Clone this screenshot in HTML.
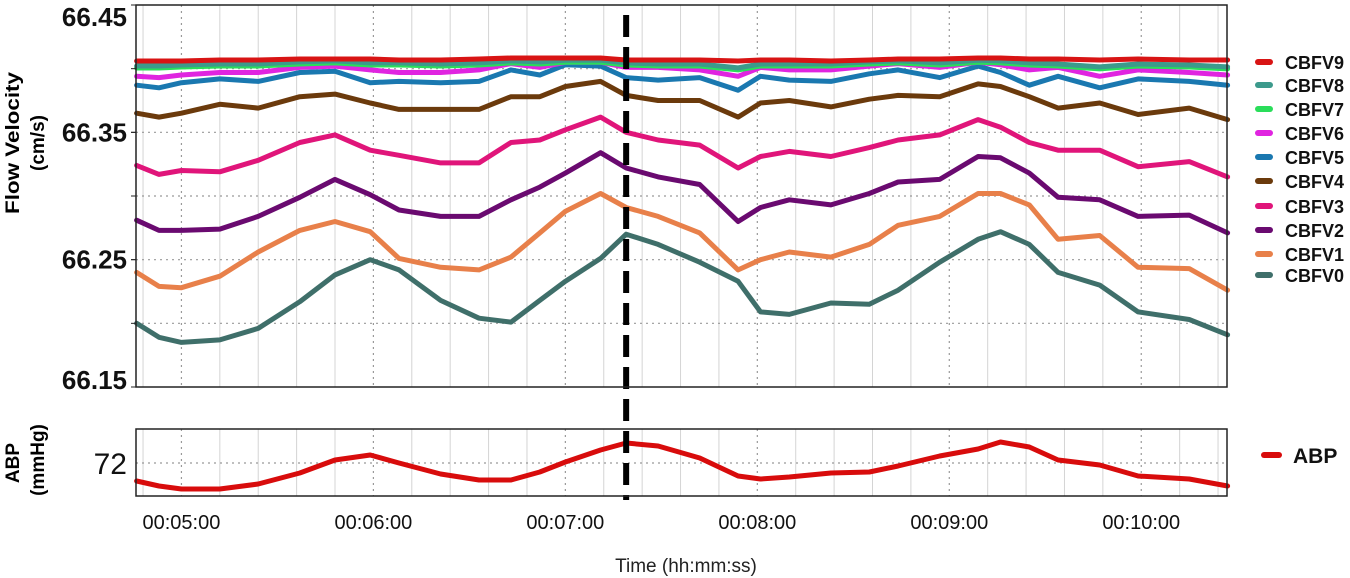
<!DOCTYPE html>
<html><head><meta charset="utf-8"><style>
html,body{margin:0;padding:0;background:#fff;}
svg{display:block;font-family:"Liberation Sans",sans-serif;}
</style></head><body>
<svg id="chart" width="1350" height="578" viewBox="0 0 1350 578" xmlns="http://www.w3.org/2000/svg">
<g id="grid"></g>
<g id="series"></g>
<rect x="136" y="5" width="1091" height="382" fill="none" stroke="#222" stroke-width="1.5"/>
<rect x="136" y="429" width="1091" height="67" fill="none" stroke="#222" stroke-width="1.5"/>
<g id="axes"></g>
<g id="legend"></g>
<text transform="translate(19,143) rotate(-90)" text-anchor="middle" font-size="19" font-weight="bold" textLength="142" lengthAdjust="spacingAndGlyphs">Flow Velocity</text>
<text transform="translate(44,143) rotate(-90)" text-anchor="middle" font-size="19" font-weight="bold">(cm/s)</text>
<text transform="translate(19,463) rotate(-90)" text-anchor="middle" font-size="19" font-weight="bold">ABP</text>
<text transform="translate(44,460) rotate(-90)" text-anchor="middle" font-size="19" font-weight="bold">(mmHg)</text>
<text x="686" y="572" text-anchor="middle" font-size="19" fill="#222">Time (hh:mm:ss)</text>
</svg>
<script>
const times=[286,293,300,312,324,337,348,359,368,381,393,403,412,420,431,439,449,462,474,481,490,503,515,524,537,549,556,565,574,587,599,615,627];
const cbfv0=[66.200,66.189,66.185,66.187,66.196,66.217,66.238,66.250,66.242,66.218,66.204,66.201,66.218,66.233,66.251,66.270,66.262,66.248,66.233,66.209,66.207,66.216,66.215,66.226,66.248,66.266,66.272,66.262,66.240,66.230,66.209,66.203,66.191];
const cbfv1=[66.240,66.229,66.228,66.237,66.256,66.273,66.280,66.272,66.251,66.244,66.242,66.252,66.271,66.288,66.302,66.291,66.284,66.271,66.242,66.250,66.256,66.252,66.262,66.277,66.284,66.302,66.302,66.293,66.266,66.269,66.244,66.243,66.226];
const cbfv2=[66.281,66.273,66.273,66.274,66.284,66.299,66.313,66.301,66.289,66.284,66.284,66.297,66.307,66.318,66.334,66.322,66.315,66.309,66.280,66.291,66.297,66.293,66.302,66.311,66.313,66.331,66.330,66.318,66.299,66.297,66.284,66.285,66.271];
const cbfv3=[66.324,66.317,66.320,66.319,66.328,66.342,66.348,66.336,66.332,66.326,66.326,66.342,66.344,66.352,66.362,66.350,66.344,66.340,66.322,66.331,66.335,66.331,66.338,66.344,66.348,66.360,66.354,66.342,66.336,66.336,66.323,66.327,66.315];
const cbfv4=[66.365,66.362,66.365,66.372,66.369,66.378,66.380,66.373,66.368,66.368,66.368,66.378,66.378,66.386,66.390,66.379,66.375,66.375,66.362,66.373,66.375,66.370,66.376,66.379,66.378,66.388,66.386,66.378,66.369,66.373,66.364,66.369,66.360];
const cbfv5=[66.387,66.385,66.389,66.392,66.390,66.397,66.398,66.389,66.390,66.389,66.390,66.399,66.395,66.403,66.402,66.393,66.391,66.393,66.383,66.394,66.391,66.390,66.396,66.399,66.393,66.402,66.397,66.387,66.394,66.385,66.392,66.390,66.387];
const cbfv6=[66.394,66.393,66.395,66.397,66.397,66.401,66.402,66.399,66.397,66.397,66.399,66.404,66.401,66.405,66.405,66.401,66.401,66.399,66.394,66.401,66.399,66.399,66.402,66.404,66.401,66.405,66.403,66.399,66.401,66.394,66.399,66.397,66.395];
const cbfv7=[66.4005,66.4005,66.4013,66.4021,66.4021,66.4037,66.4045,66.4029,66.4029,66.4021,66.4029,66.4045,66.4037,66.405,66.405,66.4029,66.4021,66.4021,66.399,66.4021,66.4021,66.4021,66.4037,66.4045,66.4029,66.405,66.4045,66.4029,66.4021,66.3998,66.4021,66.4013,66.3998];
const cbfv8=[66.4021,66.4021,66.4029,66.4037,66.4037,66.4053,66.4061,66.4045,66.4045,66.4037,66.4045,66.4061,66.4053,66.4066,66.4066,66.4045,66.4037,66.4037,66.4006,66.4037,66.4037,66.4037,66.4053,66.4061,66.4045,66.4066,66.4061,66.4045,66.4037,66.4014,66.4037,66.4029,66.4014];
const cbfv9=[66.406,66.406,66.406,66.4068,66.4068,66.4076,66.4076,66.4076,66.4068,66.4068,66.4076,66.4084,66.4084,66.4084,66.4084,66.4068,66.4068,66.4068,66.406,66.4068,66.4068,66.406,66.4068,66.4076,66.4076,66.4084,66.4084,66.4076,66.4076,66.4068,66.4076,66.4068,66.4068];
const abp=[71.64,71.54,71.48,71.48,71.58,71.80,72.06,72.16,72.00,71.78,71.66,71.66,71.82,72.02,72.26,72.40,72.34,72.10,71.74,71.68,71.72,71.80,71.82,71.94,72.14,72.28,72.42,72.32,72.06,71.96,71.74,71.68,71.54];
const flowTicks=[66.45,66.35,66.25,66.15];
const flowGrid=[66.40,66.35,66.30,66.25,66.20];
const abpTicks=[72];
const timeTicks=[300,360,420,480,540,600];
const timeLabels=["00:05:00","00:06:00","00:07:00","00:08:00","00:09:00","00:10:00"];
const markerTime=439;
const seriesNames=["CBFV9","CBFV8","CBFV7","CBFV6","CBFV5","CBFV4","CBFV3","CBFV2","CBFV1","CBFV0"];
const seriesData=[cbfv9,cbfv8,cbfv7,cbfv6,cbfv5,cbfv4,cbfv3,cbfv2,cbfv1,cbfv0];
const seriesColors=["#d81414","#3c9a8c","#2add5a","#e024e0","#1a78b0","#6b3a0c","#e0157a","#6a0a70","#e8804a","#3f6f6a"];

const NS="http://www.w3.org/2000/svg";
const X0=136,X1=1227,T0=285.8,T1=626.8;
const xs=t=>X0+(t-T0)/(T1-T0)*(X1-X0);
const yF=v=>5+(66.45-v)/0.30*382;
const yA=v=>429+(72.68-v)/1.34*67;
function mk(tag,attrs,parent){const e=document.createElementNS(NS,tag);for(const k in attrs)e.setAttribute(k,attrs[k]);parent.appendChild(e);return e;}
const grid=document.getElementById('grid'),ser=document.getElementById('series'),axes=document.getElementById('axes'),leg=document.getElementById('legend');
for(let t=288;t<=T1;t+=12){
  const x=xs(t);const minute=(t%60===0);
  [[5,387],[429,496]].forEach(r=>{
    const l=mk('line',{x1:x,x2:x,y1:r[0],y2:r[1],stroke:minute?'#999':'#d4d4d4','stroke-width':minute?1.2:1,'stroke-dasharray':minute?'2,4':'none'},grid);
    
    
  });
}
flowGrid.forEach(v=>{
  const l=mk('line',{x1:X0,x2:X1,y1:yF(v),y2:yF(v),stroke:'#999','stroke-width':1.2,'stroke-dasharray':'2,4'},grid);
  
  
});
abpTicks.forEach(v=>{
  const l=mk('line',{x1:X0,x2:X1,y1:yA(v),y2:yA(v),stroke:'#999','stroke-width':1.2,'stroke-dasharray':'2,4'},grid);
  
  
});
for(let i=seriesData.length-1;i>=0;i--){
  const pts=times.map((t,j)=>xs(t).toFixed(1)+','+yF(seriesData[i][j]).toFixed(1)).join(' ');
  const p=mk('polyline',{points:pts,fill:'none',stroke:seriesColors[i],'stroke-width':5,'stroke-linejoin':'round','stroke-linecap':'round'},ser);
  
  
}
{
  const pts=times.map((t,j)=>xs(t).toFixed(1)+','+yA(abp[j]).toFixed(1)).join(' ');
  const p=mk('polyline',{points:pts,fill:'none',stroke:'#d80c0c','stroke-width':5,'stroke-linejoin':'round','stroke-linecap':'round'},ser);
  
  
}
{
  const x=xs(markerTime);
  const l=mk('line',{x1:x,x2:x,y1:15,y2:500,stroke:'#000','stroke-width':6,'stroke-dasharray':'22,10'},ser);
  
  
}
flowTicks.forEach((v,i)=>{
  let y=yF(v)+9;
  if(i===0) y=yF(v)+21;
  if(i===flowTicks.length-1) y=yF(v)+2;
  const t=mk('text',{x:127,y:y,'text-anchor':'end','font-size':26,'font-weight':'bold',fill:'#111'},axes);
  t.textContent=v.toFixed(2);
  
  
});
flowGrid.concat(flowTicks).forEach(v=>{
  const k=mk('line',{x1:X0-5,x2:X0,y1:yF(v),y2:yF(v),stroke:'#222'},axes);
  
  
});
abpTicks.forEach(v=>{
  const t=mk('text',{x:127,y:yA(v)+11,'text-anchor':'end','font-size':30,fill:'#111'},axes);
  t.textContent=String(v);
  
  
});
timeTicks.forEach((tt,i)=>{
  const t=mk('text',{x:xs(tt),y:529,'text-anchor':'middle','font-size':20,fill:'#111'},axes);
  t.textContent=timeLabels[i];
  
  
});
const legY=[62,85,109,133,157,181,206,230,254,275];
seriesNames.forEach((n,i)=>{
  const l=mk('line',{x1:1258,x2:1270,y1:legY[i],y2:legY[i],stroke:seriesColors[i],'stroke-width':6,'stroke-linecap':'round'},leg);
  
  
  const t=mk('text',{x:1285,y:legY[i]+7,'font-size':18,'font-weight':'bold',fill:'#111'},leg);
  t.textContent=n;
  
  
});
{
  const l=mk('line',{x1:1264,x2:1279,y1:455,y2:455,stroke:'#d80c0c','stroke-width':6,'stroke-linecap':'round'},leg);
  
  
  const t=mk('text',{x:1293,y:463,'font-size':21,'font-weight':'bold',fill:'#111'},leg);
  t.textContent='ABP';
  
  
}
</script>
</body></html>
